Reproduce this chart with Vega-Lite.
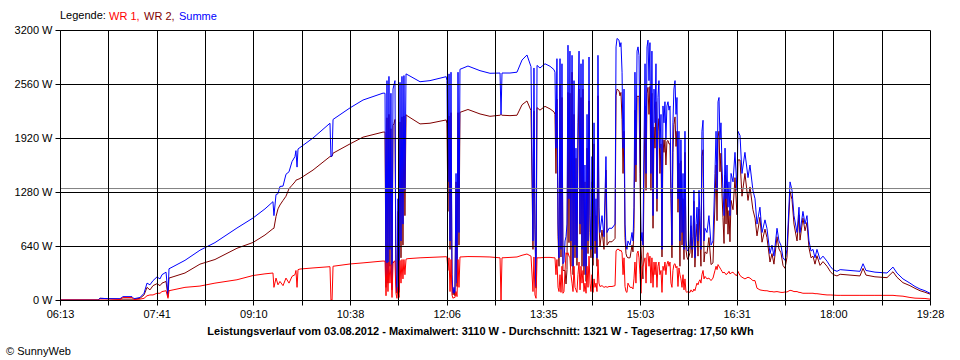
{
"$schema": "https://vega.github.io/schema/vega-lite/v6.json",
"width": 870, "height": 270,
"autosize": "none",
"padding": {"left": 60, "top": 30, "right": 30, "bottom": 60},
"background": "white",
"config": {"view": {"stroke": null}, "font": "Liberation Sans"},
"title": {"text": "© SunnyWeb", "orient": "bottom", "anchor": "start", "frame": "bounds", "fontSize": 11, "fontWeight": "normal", "color": "black", "offset": 10, "dx": -8},
"layer": [
{
"data": {"values": [
{"t":373,"Summe":0,"WR 1":0,"WR 2":0},
{"t":407.7,"Summe":0,"WR 1":0,"WR 2":0},
{"t":409.6,"Summe":20,"WR 1":0,"WR 2":20},
{"t":418.7,"Summe":15,"WR 1":0,"WR 2":15},
{"t":427.8,"Summe":15,"WR 1":5,"WR 2":10},
{"t":430.6,"Summe":40,"WR 1":30,"WR 2":10},
{"t":438.8,"Summe":40,"WR 1":30,"WR 2":10},
{"t":440.6,"Summe":15,"WR 1":5,"WR 2":10},
{"t":446.1,"Summe":30,"WR 1":10,"WR 2":20},
{"t":449.8,"Summe":80,"WR 1":20,"WR 2":60},
{"t":452.5,"Summe":200,"WR 1":50,"WR 2":150},
{"t":455.2,"Summe":180,"WR 1":60,"WR 2":120},
{"t":458.0,"Summe":230,"WR 1":60,"WR 2":170},
{"t":461.6,"Summe":273,"WR 1":80,"WR 2":193},
{"t":464.4,"Summe":250,"WR 1":80,"WR 2":170},
{"t":466.2,"Summe":300,"WR 1":100,"WR 2":200},
{"t":469.9,"Summe":330,"WR 1":110,"WR 2":220},
{"t":471.7,"Summe":60,"WR 1":20,"WR 2":40},
{"t":472.6,"Summe":370,"WR 1":110,"WR 2":260},
{"t":476.3,"Summe":395,"WR 1":120,"WR 2":275},
{"t":487.2,"Summe":470,"WR 1":150,"WR 2":320},
{"t":500.9,"Summe":590,"WR 1":165,"WR 2":425},
{"t":514.6,"Summe":680,"WR 1":200,"WR 2":480},
{"t":534.7,"Summe":853,"WR 1":240,"WR 2":613},
{"t":549.4,"Summe":972,"WR 1":290,"WR 2":682},
{"t":560.3,"Summe":1080,"WR 1":310,"WR 2":770},
{"t":567.6,"Summe":1165,"WR 1":320,"WR 2":845},
{"t":568.5,"Summe":1000,"WR 1":150,"WR 2":850},
{"t":570.4,"Summe":1250,"WR 1":260,"WR 2":990},
{"t":572.2,"Summe":1260,"WR 1":180,"WR 2":1080},
{"t":574.0,"Summe":1346,"WR 1":220,"WR 2":1126},
{"t":576.8,"Summe":1350,"WR 1":170,"WR 2":1180},
{"t":579.5,"Summe":1490,"WR 1":260,"WR 2":1230},
{"t":582.3,"Summe":1520,"WR 1":200,"WR 2":1320},
{"t":585.0,"Summe":1640,"WR 1":280,"WR 2":1360},
{"t":587.7,"Summe":1700,"WR 1":300,"WR 2":1400},
{"t":588.6,"Summe":1770,"WR 1":350,"WR 2":1420},
{"t":589.6,"Summe":1575,"WR 1":150,"WR 2":1425},
{"t":590.5,"Summe":1790,"WR 1":360,"WR 2":1430},
{"t":592.3,"Summe":1807,"WR 1":367,"WR 2":1440},
{"t":604.2,"Summe":1920,"WR 1":380,"WR 2":1540},
{"t":619.7,"Summe":2095,"WR 1":395,"WR 2":1700},
{"t":620.6,"Summe":1700,"WR 1":0,"WR 2":1700},
{"t":621.6,"Summe":1705,"WR 1":0,"WR 2":1705},
{"t":622.5,"Summe":2140,"WR 1":400,"WR 2":1740},
{"t":638.0,"Summe":2277,"WR 1":427,"WR 2":1850},
{"t":649.9,"Summe":2370,"WR 1":440,"WR 2":1930},
{"t":668.2,"Summe":2452,"WR 1":462,"WR 2":1990},
{"t":670.0,"Summe":2450,"WR 1":460,"WR 2":1990},
{"t":670.9,"Summe":200,"WR 1":50,"WR 2":150},
{"t":671.8,"Summe":2600,"WR 1":440,"WR 2":2160},
{"t":672.7,"Summe":300,"WR 1":100,"WR 2":200},
{"t":673.6,"Summe":2650,"WR 1":450,"WR 2":2200},
{"t":674.5,"Summe":600,"WR 1":200,"WR 2":400},
{"t":675.4,"Summe":2450,"WR 1":420,"WR 2":2030},
{"t":676.4,"Summe":150,"WR 1":30,"WR 2":120},
{"t":677.3,"Summe":2500,"WR 1":430,"WR 2":2070},
{"t":678.2,"Summe":2550,"WR 1":460,"WR 2":2090},
{"t":679.1,"Summe":2600,"WR 1":460,"WR 2":2140},
{"t":680.0,"Summe":300,"WR 1":80,"WR 2":220},
{"t":680.9,"Summe":100,"WR 1":20,"WR 2":80},
{"t":681.8,"Summe":1200,"WR 1":150,"WR 2":1050},
{"t":682.8,"Summe":120,"WR 1":30,"WR 2":90},
{"t":683.7,"Summe":2580,"WR 1":470,"WR 2":2110},
{"t":684.6,"Summe":700,"WR 1":200,"WR 2":500},
{"t":685.5,"Summe":2650,"WR 1":480,"WR 2":2170},
{"t":686.4,"Summe":900,"WR 1":250,"WR 2":650},
{"t":687.3,"Summe":2660,"WR 1":480,"WR 2":2180},
{"t":688.2,"Summe":1300,"WR 1":300,"WR 2":1000},
{"t":689.2,"Summe":2680,"WR 1":485,"WR 2":2195},
{"t":691.0,"Summe":2667,"WR 1":490,"WR 2":2177},
{"t":702.0,"Summe":2587,"WR 1":500,"WR 2":2087},
{"t":711.1,"Summe":2600,"WR 1":505,"WR 2":2095},
{"t":725.9,"Summe":2647,"WR 1":513,"WR 2":2134},
{"t":726.6,"Summe":2600,"WR 1":510,"WR 2":2090},
{"t":727.5,"Summe":1400,"WR 1":350,"WR 2":1050},
{"t":728.5,"Summe":2680,"WR 1":500,"WR 2":2180},
{"t":729.4,"Summe":700,"WR 1":100,"WR 2":600},
{"t":730.3,"Summe":2700,"WR 1":480,"WR 2":2220},
{"t":731.2,"Summe":300,"WR 1":60,"WR 2":240},
{"t":732.1,"Summe":80,"WR 1":20,"WR 2":60},
{"t":733.0,"Summe":150,"WR 1":30,"WR 2":120},
{"t":733.9,"Summe":80,"WR 1":30,"WR 2":50},
{"t":734.9,"Summe":1500,"WR 1":100,"WR 2":1400},
{"t":735.8,"Summe":200,"WR 1":40,"WR 2":160},
{"t":736.7,"Summe":2700,"WR 1":480,"WR 2":2220},
{"t":737.6,"Summe":800,"WR 1":150,"WR 2":650},
{"t":738.5,"Summe":2734,"WR 1":510,"WR 2":2224},
{"t":745.8,"Summe":2773,"WR 1":515,"WR 2":2258},
{"t":756.8,"Summe":2718,"WR 1":513,"WR 2":2205},
{"t":765.9,"Summe":2687,"WR 1":510,"WR 2":2177},
{"t":775.1,"Summe":2690,"WR 1":500,"WR 2":2190},
{"t":776.0,"Summe":2200,"WR 1":0,"WR 2":2200},
{"t":776.9,"Summe":2690,"WR 1":500,"WR 2":2190},
{"t":784.2,"Summe":2690,"WR 1":505,"WR 2":2185},
{"t":790.6,"Summe":2700,"WR 1":510,"WR 2":2190},
{"t":795.2,"Summe":2844,"WR 1":530,"WR 2":2314},
{"t":799.7,"Summe":2904,"WR 1":545,"WR 2":2359},
{"t":803.4,"Summe":2765,"WR 1":520,"WR 2":2245},
{"t":805.2,"Summe":700,"WR 1":100,"WR 2":600},
{"t":806.1,"Summe":2750,"WR 1":510,"WR 2":2240},
{"t":807.0,"Summe":900,"WR 1":60,"WR 2":840},
{"t":808.0,"Summe":160,"WR 1":20,"WR 2":140},
{"t":808.9,"Summe":2780,"WR 1":500,"WR 2":2280},
{"t":811.6,"Summe":2750,"WR 1":500,"WR 2":2250},
{"t":816.2,"Summe":2800,"WR 1":505,"WR 2":2295},
{"t":820.8,"Summe":2770,"WR 1":505,"WR 2":2265},
{"t":824.4,"Summe":2730,"WR 1":500,"WR 2":2230},
{"t":825.3,"Summe":2700,"WR 1":500,"WR 2":2200},
{"t":826.2,"Summe":1800,"WR 1":300,"WR 2":1500},
{"t":827.1,"Summe":2860,"WR 1":480,"WR 2":2380},
{"t":828.1,"Summe":900,"WR 1":150,"WR 2":750},
{"t":829.0,"Summe":500,"WR 1":100,"WR 2":400},
{"t":829.9,"Summe":2860,"WR 1":300,"WR 2":2560},
{"t":830.8,"Summe":600,"WR 1":90,"WR 2":510},
{"t":831.7,"Summe":2800,"WR 1":400,"WR 2":2400},
{"t":832.6,"Summe":430,"WR 1":80,"WR 2":350},
{"t":833.5,"Summe":450,"WR 1":100,"WR 2":350},
{"t":834.5,"Summe":700,"WR 1":350,"WR 2":350},
{"t":835.4,"Summe":750,"WR 1":560,"WR 2":190},
{"t":836.3,"Summe":900,"WR 1":540,"WR 2":360},
{"t":837.2,"Summe":3020,"WR 1":560,"WR 2":2460},
{"t":838.1,"Summe":1200,"WR 1":520,"WR 2":680},
{"t":839.0,"Summe":2950,"WR 1":500,"WR 2":2450},
{"t":839.9,"Summe":700,"WR 1":300,"WR 2":400},
{"t":840.9,"Summe":2900,"WR 1":200,"WR 2":2700},
{"t":841.8,"Summe":400,"WR 1":100,"WR 2":300},
{"t":842.7,"Summe":2600,"WR 1":400,"WR 2":2200},
{"t":843.6,"Summe":650,"WR 1":150,"WR 2":500},
{"t":844.5,"Summe":1800,"WR 1":120,"WR 2":1680},
{"t":845.4,"Summe":500,"WR 1":90,"WR 2":410},
{"t":846.3,"Summe":2100,"WR 1":300,"WR 2":1800},
{"t":847.3,"Summe":2950,"WR 1":450,"WR 2":2500},
{"t":848.2,"Summe":900,"WR 1":120,"WR 2":780},
{"t":849.1,"Summe":2800,"WR 1":400,"WR 2":2400},
{"t":850.0,"Summe":600,"WR 1":200,"WR 2":400},
{"t":850.9,"Summe":2850,"WR 1":350,"WR 2":2500},
{"t":851.8,"Summe":400,"WR 1":100,"WR 2":300},
{"t":852.7,"Summe":1600,"WR 1":200,"WR 2":1400},
{"t":853.7,"Summe":300,"WR 1":80,"WR 2":220},
{"t":854.6,"Summe":2200,"WR 1":400,"WR 2":1800},
{"t":855.5,"Summe":700,"WR 1":150,"WR 2":550},
{"t":856.4,"Summe":2880,"WR 1":520,"WR 2":2360},
{"t":857.3,"Summe":1000,"WR 1":200,"WR 2":800},
{"t":858.2,"Summe":600,"WR 1":100,"WR 2":500},
{"t":859.1,"Summe":1700,"WR 1":300,"WR 2":1400},
{"t":860.1,"Summe":500,"WR 1":90,"WR 2":410},
{"t":861.0,"Summe":2100,"WR 1":250,"WR 2":1850},
{"t":861.9,"Summe":700,"WR 1":150,"WR 2":550},
{"t":862.8,"Summe":1200,"WR 1":200,"WR 2":1000},
{"t":863.7,"Summe":500,"WR 1":100,"WR 2":400},
{"t":864.6,"Summe":2900,"WR 1":480,"WR 2":2420},
{"t":865.5,"Summe":1100,"WR 1":200,"WR 2":900},
{"t":866.4,"Summe":800,"WR 1":160,"WR 2":640},
{"t":868.3,"Summe":1000,"WR 1":170,"WR 2":830},
{"t":870.1,"Summe":750,"WR 1":150,"WR 2":600},
{"t":871.9,"Summe":1700,"WR 1":160,"WR 2":1540},
{"t":872.9,"Summe":800,"WR 1":150,"WR 2":650},
{"t":874.7,"Summe":850,"WR 1":160,"WR 2":690},
{"t":877.4,"Summe":850,"WR 1":160,"WR 2":690},
{"t":880.2,"Summe":900,"WR 1":170,"WR 2":730},
{"t":881.1,"Summe":3000,"WR 1":580,"WR 2":2420},
{"t":882.0,"Summe":3100,"WR 1":600,"WR 2":2500},
{"t":883.8,"Summe":3080,"WR 1":600,"WR 2":2480},
{"t":884.7,"Summe":3000,"WR 1":580,"WR 2":2420},
{"t":885.6,"Summe":3050,"WR 1":590,"WR 2":2460},
{"t":886.6,"Summe":2700,"WR 1":560,"WR 2":2140},
{"t":887.5,"Summe":1800,"WR 1":300,"WR 2":1500},
{"t":888.4,"Summe":2500,"WR 1":500,"WR 2":2000},
{"t":889.3,"Summe":900,"WR 1":160,"WR 2":740},
{"t":890.2,"Summe":650,"WR 1":100,"WR 2":550},
{"t":891.1,"Summe":600,"WR 1":90,"WR 2":510},
{"t":892.0,"Summe":700,"WR 1":200,"WR 2":500},
{"t":893.9,"Summe":650,"WR 1":150,"WR 2":500},
{"t":895.7,"Summe":800,"WR 1":150,"WR 2":650},
{"t":896.6,"Summe":700,"WR 1":130,"WR 2":570},
{"t":897.5,"Summe":1100,"WR 1":250,"WR 2":850},
{"t":898.4,"Summe":2700,"WR 1":450,"WR 2":2250},
{"t":899.3,"Summe":1600,"WR 1":200,"WR 2":1400},
{"t":900.3,"Summe":2950,"WR 1":550,"WR 2":2400},
{"t":901.2,"Summe":3000,"WR 1":580,"WR 2":2420},
{"t":902.1,"Summe":2900,"WR 1":500,"WR 2":2400},
{"t":903.0,"Summe":1800,"WR 1":300,"WR 2":1500},
{"t":903.9,"Summe":700,"WR 1":80,"WR 2":620},
{"t":904.8,"Summe":800,"WR 1":400,"WR 2":400},
{"t":905.7,"Summe":650,"WR 1":400,"WR 2":250},
{"t":906.6,"Summe":1800,"WR 1":450,"WR 2":1350},
{"t":907.6,"Summe":2800,"WR 1":500,"WR 2":2300},
{"t":908.5,"Summe":1500,"WR 1":200,"WR 2":1300},
{"t":909.4,"Summe":3000,"WR 1":550,"WR 2":2450},
{"t":910.3,"Summe":3080,"WR 1":560,"WR 2":2520},
{"t":911.2,"Summe":2600,"WR 1":400,"WR 2":2200},
{"t":912.1,"Summe":3050,"WR 1":520,"WR 2":2530},
{"t":913.0,"Summe":1500,"WR 1":200,"WR 2":1300},
{"t":913.9,"Summe":2950,"WR 1":500,"WR 2":2450},
{"t":914.9,"Summe":1000,"WR 1":150,"WR 2":850},
{"t":915.8,"Summe":2500,"WR 1":450,"WR 2":2050},
{"t":916.7,"Summe":2100,"WR 1":300,"WR 2":1800},
{"t":917.6,"Summe":2800,"WR 1":450,"WR 2":2350},
{"t":918.5,"Summe":1200,"WR 1":150,"WR 2":1050},
{"t":919.4,"Summe":2400,"WR 1":400,"WR 2":2000},
{"t":920.3,"Summe":2600,"WR 1":450,"WR 2":2150},
{"t":921.2,"Summe":1800,"WR 1":300,"WR 2":1500},
{"t":922.2,"Summe":2200,"WR 1":350,"WR 2":1850},
{"t":923.1,"Summe":600,"WR 1":90,"WR 2":510},
{"t":924.0,"Summe":2300,"WR 1":400,"WR 2":1900},
{"t":924.9,"Summe":2100,"WR 1":350,"WR 2":1750},
{"t":925.8,"Summe":2350,"WR 1":450,"WR 2":1900},
{"t":926.7,"Summe":1900,"WR 1":300,"WR 2":1600},
{"t":927.6,"Summe":2300,"WR 1":420,"WR 2":1880},
{"t":928.6,"Summe":2350,"WR 1":460,"WR 2":1890},
{"t":929.5,"Summe":2250,"WR 1":400,"WR 2":1850},
{"t":930.4,"Summe":2300,"WR 1":450,"WR 2":1850},
{"t":931.3,"Summe":1400,"WR 1":200,"WR 2":1200},
{"t":932.2,"Summe":650,"WR 1":150,"WR 2":500},
{"t":933.1,"Summe":2100,"WR 1":350,"WR 2":1750},
{"t":934.0,"Summe":2500,"WR 1":420,"WR 2":2080},
{"t":935.0,"Summe":2600,"WR 1":430,"WR 2":2170},
{"t":935.9,"Summe":2200,"WR 1":380,"WR 2":1820},
{"t":936.8,"Summe":2400,"WR 1":400,"WR 2":2000},
{"t":937.7,"Summe":1200,"WR 1":160,"WR 2":1040},
{"t":938.6,"Summe":2000,"WR 1":380,"WR 2":1620},
{"t":939.5,"Summe":700,"WR 1":300,"WR 2":400},
{"t":940.4,"Summe":1900,"WR 1":250,"WR 2":1650},
{"t":941.4,"Summe":800,"WR 1":150,"WR 2":650},
{"t":942.3,"Summe":1500,"WR 1":300,"WR 2":1200},
{"t":943.2,"Summe":600,"WR 1":120,"WR 2":480},
{"t":944.1,"Summe":2000,"WR 1":250,"WR 2":1750},
{"t":945.0,"Summe":700,"WR 1":100,"WR 2":600},
{"t":945.9,"Summe":600,"WR 1":90,"WR 2":510},
{"t":946.8,"Summe":580,"WR 1":100,"WR 2":480},
{"t":948.7,"Summe":650,"WR 1":90,"WR 2":560},
{"t":949.6,"Summe":1000,"WR 1":120,"WR 2":880},
{"t":950.5,"Summe":600,"WR 1":100,"WR 2":500},
{"t":951.4,"Summe":750,"WR 1":100,"WR 2":650},
{"t":952.3,"Summe":1300,"WR 1":130,"WR 2":1170},
{"t":953.2,"Summe":500,"WR 1":110,"WR 2":390},
{"t":954.2,"Summe":900,"WR 1":160,"WR 2":740},
{"t":955.1,"Summe":1100,"WR 1":200,"WR 2":900},
{"t":956.0,"Summe":700,"WR 1":180,"WR 2":520},
{"t":956.9,"Summe":1300,"WR 1":220,"WR 2":1080},
{"t":957.8,"Summe":1000,"WR 1":240,"WR 2":760},
{"t":958.7,"Summe":600,"WR 1":200,"WR 2":400},
{"t":959.6,"Summe":2000,"WR 1":300,"WR 2":1700},
{"t":960.6,"Summe":2130,"WR 1":350,"WR 2":1780},
{"t":961.5,"Summe":700,"WR 1":250,"WR 2":450},
{"t":962.4,"Summe":850,"WR 1":280,"WR 2":570},
{"t":964.2,"Summe":800,"WR 1":250,"WR 2":550},
{"t":966.0,"Summe":1000,"WR 1":260,"WR 2":740},
{"t":967.9,"Summe":650,"WR 1":230,"WR 2":420},
{"t":969.7,"Summe":700,"WR 1":260,"WR 2":440},
{"t":971.5,"Summe":1500,"WR 1":350,"WR 2":1150},
{"t":972.5,"Summe":2000,"WR 1":400,"WR 2":1600},
{"t":973.4,"Summe":1300,"WR 1":360,"WR 2":940},
{"t":974.3,"Summe":2350,"WR 1":420,"WR 2":1930},
{"t":975.2,"Summe":2400,"WR 1":400,"WR 2":2000},
{"t":976.1,"Summe":1900,"WR 1":380,"WR 2":1520},
{"t":977.0,"Summe":2100,"WR 1":360,"WR 2":1740},
{"t":977.9,"Summe":1600,"WR 1":340,"WR 2":1260},
{"t":978.8,"Summe":1300,"WR 1":320,"WR 2":980},
{"t":979.8,"Summe":1000,"WR 1":330,"WR 2":670},
{"t":980.7,"Summe":1800,"WR 1":320,"WR 2":1480},
{"t":981.6,"Summe":1200,"WR 1":300,"WR 2":900},
{"t":982.5,"Summe":1600,"WR 1":310,"WR 2":1290},
{"t":983.4,"Summe":1100,"WR 1":320,"WR 2":780},
{"t":984.3,"Summe":1400,"WR 1":340,"WR 2":1060},
{"t":985.2,"Summe":1000,"WR 1":310,"WR 2":690},
{"t":986.2,"Summe":1500,"WR 1":320,"WR 2":1180},
{"t":988.0,"Summe":1400,"WR 1":330,"WR 2":1070},
{"t":989.8,"Summe":1750,"WR 1":300,"WR 2":1450},
{"t":991.6,"Summe":1300,"WR 1":290,"WR 2":1010},
{"t":992.5,"Summe":2000,"WR 1":340,"WR 2":1660},
{"t":994.4,"Summe":1950,"WR 1":290,"WR 2":1660},
{"t":996.2,"Summe":1500,"WR 1":270,"WR 2":1230},
{"t":998.9,"Summe":1750,"WR 1":250,"WR 2":1500},
{"t":1001.7,"Summe":1450,"WR 1":270,"WR 2":1180},
{"t":1003.5,"Summe":1600,"WR 1":260,"WR 2":1340},
{"t":1006.2,"Summe":1300,"WR 1":230,"WR 2":1070},
{"t":1008.1,"Summe":1200,"WR 1":230,"WR 2":970},
{"t":1009.9,"Summe":900,"WR 1":140,"WR 2":760},
{"t":1012.6,"Summe":1100,"WR 1":120,"WR 2":980},
{"t":1014.5,"Summe":800,"WR 1":115,"WR 2":685},
{"t":1017.2,"Summe":950,"WR 1":110,"WR 2":840},
{"t":1019.0,"Summe":850,"WR 1":110,"WR 2":740},
{"t":1021.8,"Summe":550,"WR 1":100,"WR 2":450},
{"t":1023.6,"Summe":650,"WR 1":100,"WR 2":550},
{"t":1025.4,"Summe":520,"WR 1":95,"WR 2":425},
{"t":1028.2,"Summe":850,"WR 1":100,"WR 2":750},
{"t":1030.0,"Summe":700,"WR 1":95,"WR 2":605},
{"t":1031.8,"Summe":650,"WR 1":90,"WR 2":560},
{"t":1033.7,"Summe":500,"WR 1":90,"WR 2":410},
{"t":1035.5,"Summe":470,"WR 1":95,"WR 2":375},
{"t":1037.3,"Summe":600,"WR 1":95,"WR 2":505},
{"t":1040.1,"Summe":1400,"WR 1":115,"WR 2":1285},
{"t":1041.9,"Summe":1300,"WR 1":110,"WR 2":1190},
{"t":1043.7,"Summe":1000,"WR 1":100,"WR 2":900},
{"t":1046.5,"Summe":800,"WR 1":100,"WR 2":700},
{"t":1048.3,"Summe":1100,"WR 1":90,"WR 2":1010},
{"t":1049.2,"Summe":800,"WR 1":90,"WR 2":710},
{"t":1051.9,"Summe":1050,"WR 1":80,"WR 2":970},
{"t":1053.8,"Summe":900,"WR 1":80,"WR 2":820},
{"t":1055.6,"Summe":1000,"WR 1":80,"WR 2":920},
{"t":1057.4,"Summe":700,"WR 1":80,"WR 2":620},
{"t":1059.3,"Summe":580,"WR 1":80,"WR 2":500},
{"t":1061.1,"Summe":600,"WR 1":80,"WR 2":520},
{"t":1062.9,"Summe":500,"WR 1":75,"WR 2":425},
{"t":1064.7,"Summe":600,"WR 1":75,"WR 2":525},
{"t":1067.5,"Summe":480,"WR 1":70,"WR 2":410},
{"t":1070.2,"Summe":520,"WR 1":65,"WR 2":455},
{"t":1073.9,"Summe":460,"WR 1":60,"WR 2":400},
{"t":1076.8,"Summe":400,"WR 1":60,"WR 2":340},
{"t":1079.4,"Summe":360,"WR 1":58,"WR 2":302},
{"t":1083.0,"Summe":340,"WR 1":55,"WR 2":285},
{"t":1085.9,"Summe":360,"WR 1":55,"WR 2":305},
{"t":1094.9,"Summe":350,"WR 1":55,"WR 2":295},
{"t":1104.0,"Summe":340,"WR 1":55,"WR 2":285},
{"t":1106.8,"Summe":430,"WR 1":55,"WR 2":375},
{"t":1109.5,"Summe":350,"WR 1":55,"WR 2":295},
{"t":1117.7,"Summe":330,"WR 1":55,"WR 2":275},
{"t":1128.7,"Summe":320,"WR 1":55,"WR 2":265},
{"t":1134.2,"Summe":390,"WR 1":55,"WR 2":335},
{"t":1137.8,"Summe":320,"WR 1":50,"WR 2":270},
{"t":1143.3,"Summe":250,"WR 1":45,"WR 2":205},
{"t":1149.7,"Summe":200,"WR 1":30,"WR 2":170},
{"t":1154.3,"Summe":160,"WR 1":22,"WR 2":138},
{"t":1158.9,"Summe":130,"WR 1":20,"WR 2":110},
{"t":1163.4,"Summe":110,"WR 1":18,"WR 2":92},
{"t":1168.0,"Summe":80,"WR 1":10,"WR 2":70}
]},
"transform": [{"fold": ["WR 2", "Summe", "WR 1"], "as": ["serie", "watt"]}],
"mark": {"type": "line", "strokeWidth": 1, "interpolate": "linear"},
"encoding": {
"x": {"field": "t", "type": "quantitative",
 "scale": {"domain": [373, 1168], "nice": false, "zero": false},
 "axis": {"values": [373, 417.1667, 461.3333, 505.5, 549.6667, 593.8333, 638, 682.1667, 726.3333, 770.5, 814.6667, 858.8333, 903, 947.1667, 991.3333, 1035.5, 1079.6667, 1123.8333, 1168],
  "labelExpr": "round((datum.value-373)/44.1667) % 2 == 0 ? timeFormat(datetime(2012,7,3,0,round(datum.value)),'%H:%M') : ''",
  "grid": true, "gridColor": "black", "gridOpacity": 1, "gridWidth": 1,
  "tickColor": "black", "tickSize": 5, "domainColor": "black",
  "labelColor": "black", "labelFontSize": 11, "labelPadding": 3, "labelFont": "Liberation Sans",
  "labelFlush": false, "labelOverlap": false,
  "title": "Leistungsverlauf vom 03.08.2012 - Maximalwert: 3110 W - Durchschnitt: 1321 W - Tagesertrag: 17,50 kWh",
  "titleFontSize": 11, "titleFontWeight": "bold", "titleColor": "black", "titleFont": "Liberation Sans", "titlePadding": 6, "titleX": 420,
  "zindex": 1}},
"y": {"field": "watt", "type": "quantitative",
 "scale": {"domain": [0, 3200], "nice": false},
 "axis": {"values": [0, 640, 1280, 1920, 2560, 3200], "labelExpr": "datum.value + ' W'",
  "grid": true, "gridColor": "black", "gridOpacity": 1, "gridWidth": 1,
  "tickColor": "black", "tickSize": 5, "domainColor": "black",
  "labelColor": "black", "labelFontSize": 11, "labelPadding": 3, "labelFont": "Liberation Sans",
  "labelFlush": false, "title": null, "zindex": 1}},
"color": {"field": "serie", "type": "nominal",
 "scale": {"domain": ["WR 1", "WR 2", "Summe"], "range": ["#ff0000", "#800000", "#0000ff"]},
 "legend": {"orient": "top", "direction": "horizontal", "title": "Legende:", "titleOrient": "left",
  "titleFontSize": 11, "titleFontWeight": "normal", "titleColor": "black", "titleFont": "Liberation Sans", "titlePadding": 2,
  "labelFontSize": 11, "labelFont": "Liberation Sans", "symbolSize": 0.01, "symbolOpacity": 0, "symbolStrokeWidth": 0,
  "labelOffset": -10, "columnPadding": 3, "offset": 8, "padding": 0,
  "labelExpr": "datum.label == 'Summe' ? datum.label : datum.label + ','",
  "labelColor": {"expr": "datum.label == 'WR 1' ? '#ff0000' : (datum.label == 'WR 2' ? '#800000' : '#0000ff')"}}}
}
},
{
"data": {"values": [{"avg": 1321}]},
"mark": {"type": "rule", "color": "#808080", "strokeWidth": 1},
"encoding": {"y": {"field": "avg", "type": "quantitative"}}
}
]
}
